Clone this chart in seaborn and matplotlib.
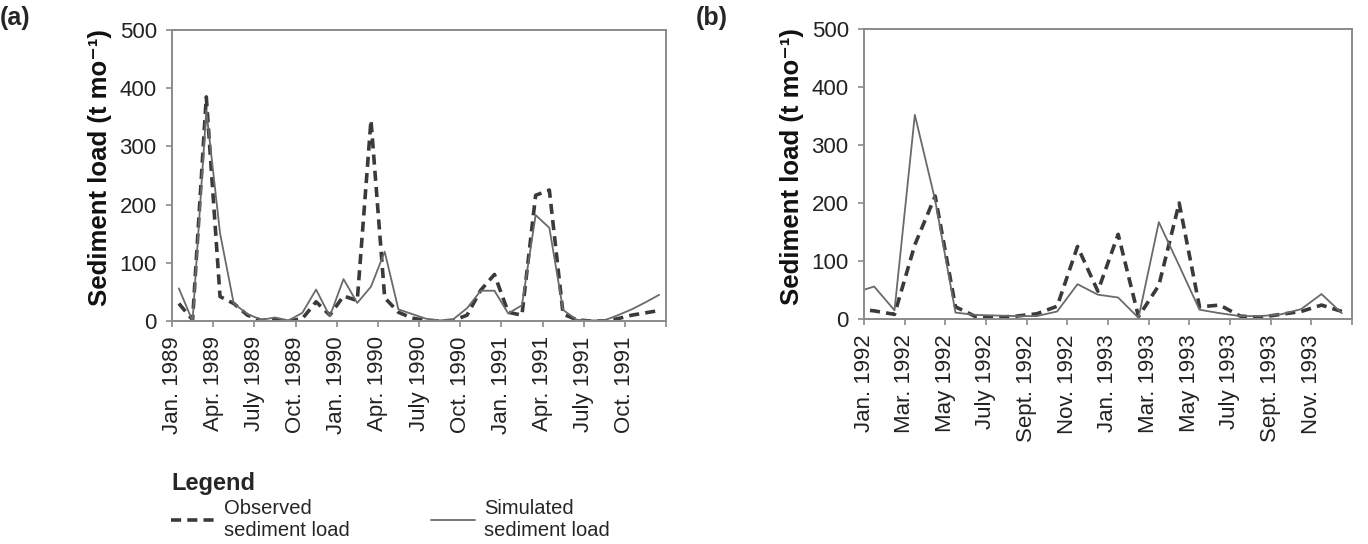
import numpy as np
import pandas as pd
import matplotlib
matplotlib.use("Agg")
import matplotlib.pyplot as plt
import seaborn as sns

# ---------------- data ----------------
tick_labels_a = ["Jan. 1989", "Apr. 1989", "July 1989", "Oct. 1989", "Jan. 1990", "Apr. 1990",
                 "July 1990", "Oct. 1990", "Jan. 1991", "Apr. 1991", "July 1991", "Oct. 1991"]
# monthly values Jan 1989 .. Dec 1991
obs_a = [30, 2, 385, 42, 30, 10, 1, 3, 0, 4, 33, 10,
         43, 35, 345, 40, 15, 5, 1, 0, 1, 10, 53, 80,
         15, 10, 216, 225, 12, 2, 0, 0, 4, 10, 14, 18]
sim_a = [56, 0, 362, 151, 30, 12, 2, 6, 1, 14, 54, 8,
         72, 31, 59, 119, 20, 12, 4, 1, 3, 22, 52, 52,
         13, 27, 182, 160, 19, 2, 1, 1, 10, 20, 32, 45]

tick_labels_b = ["Jan. 1992", "Mar. 1992", "May 1992", "July 1992", "Sept. 1992", "Nov. 1992",
                 "Jan. 1993", "Mar. 1993", "May 1993", "July 1993", "Sept. 1993", "Nov. 1993"]
# monthly values Dec 1991 (carried in from the left edge) .. Dec 1993
obs_b = [18, 14, 8, 128, 212, 21, 4, 3, 5, 9, 22, 125, 48,
         146, 4, 58, 200, 21, 24, 5, 3, 8, 13, 24, 13]
sim_b = [45, 56, 15, 352, 205, 11, 7, 6, 5, 5, 13, 60, 42,
         37, 2, 167, 92, 16, 10, 5, 5, 8, 17, 43, 10]

OBS = "Observed\nsediment load"
SIM = "Simulated\nsediment load"

def long_frame(obs, sim, start):
    pos = np.arange(len(obs)) + start + 0.5
    return pd.concat([
        pd.DataFrame({"month": pos, "load": obs, "series": OBS}),
        pd.DataFrame({"month": pos, "load": sim, "series": SIM}),
    ], ignore_index=True)

df_a = long_frame(obs_a, sim_a, 0)
df_b = long_frame(obs_b, sim_b, -1)

# ---------------- style ----------------
sns.set_theme(style="ticks")
plt.rcParams["font.family"] = ["Liberation Sans", "DejaVu Sans"]

FRAME = "#8a8a8a"
palette = {OBS: "#3a3a3a", SIM: "#6a6a6a"}
dashes = {OBS: (2.8, 1.7), SIM: ""}
sizes = {OBS: 2.6, SIM: 1.3}

fig = plt.figure(figsize=(13.68, 5.44), dpi=100)
ax_a = fig.add_axes([172 / 1368, 1 - 321 / 544, 494 / 1368, 291 / 544])
ax_b = fig.add_axes([864 / 1368, 1 - 319 / 544, 488 / 1368, 290 / 544])

def draw(ax, df, nmonths, step, labels, legend, width_px):
    sns.lineplot(data=df, x="month", y="load", hue="series", style="series", size="series",
                 palette=palette, dashes=dashes, sizes=sizes, ax=ax, legend=legend)
    ax.set_xlim(0, nmonths)
    ax.set_ylim(0, 500)
    ax.set_xticks(np.arange(0, nmonths + 1, step))
    ax.set_xticklabels(labels + [""], rotation=90, fontsize=16, color="#222222")
    ax.set_yticks(np.arange(0, 501, 100))
    ax.set_yticklabels([str(v) for v in range(0, 501, 100)], fontsize=16, color="#222222")
    ax.tick_params(axis="both", length=4, width=1.2, color=FRAME, pad=7)
    for sp in ax.spines.values():
        sp.set_color(FRAME)
        sp.set_linewidth(1.4)
        sp.set_visible(True)
    ax.set_xlabel("")
    ax.set_ylabel("Sediment load (t mo\u207b\u00b9)", fontsize=18.5, fontweight="bold",
                  color="#111111")
    ax.yaxis.set_label_coords(-60 / width_px, 0.527)

draw(ax_a, df_a, 36, 3, tick_labels_a, True, 494)
draw(ax_b, df_b, 24, 2, tick_labels_b, False, 488)

leg = ax_a.get_legend()
handles = leg.legend_handles
labels = [t.get_text() for t in leg.get_texts()]
leg.remove()

fig.legend(handles, labels, loc="upper left", bbox_to_anchor=(161 / 1368, 1 - 462 / 544),
           ncol=2, frameon=False, title="Legend",
           title_fontproperties={"weight": "bold", "size": 17},
           alignment="left", fontsize=14.5, handlelength=2.2, handletextpad=0.45,
           columnspacing=4.0, borderpad=0, labelspacing=0.2)

fig.text(0 / 1368, 1 - 18 / 544, "(a)", fontsize=18, fontweight="bold", ha="left", va="center")
fig.text(696 / 1368, 1 - 18 / 544, "(b)", fontsize=18, fontweight="bold", ha="left", va="center")

fig.savefig("out.png", dpi=100)
